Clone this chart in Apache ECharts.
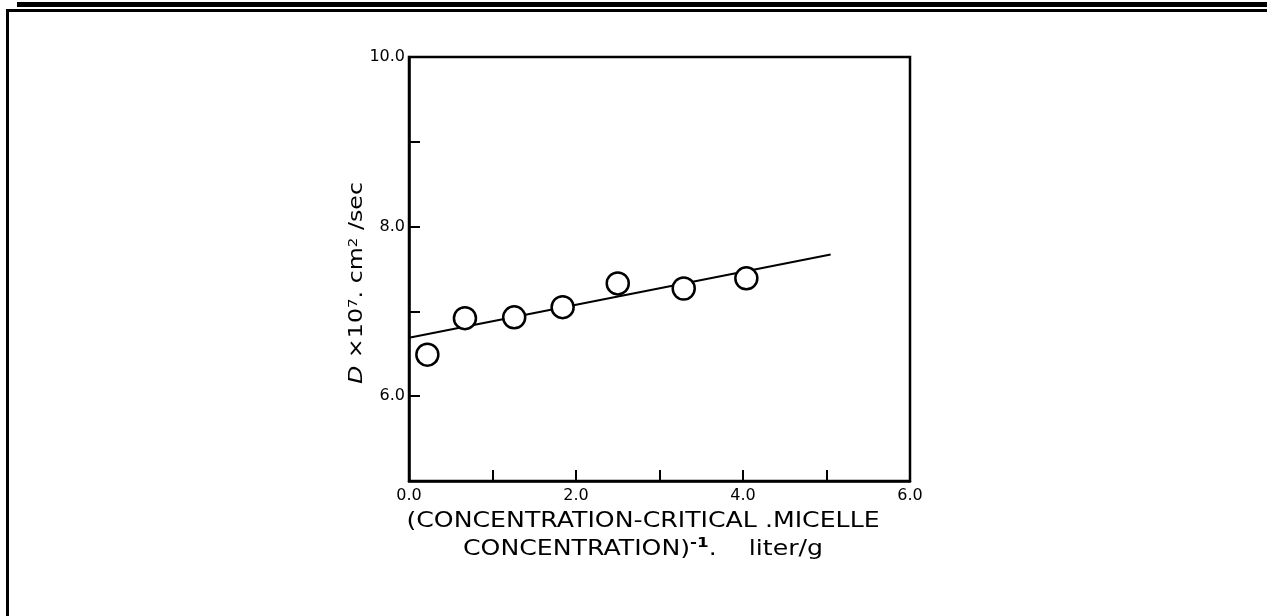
<!DOCTYPE html>
<html>
<head>
<meta charset="utf-8">
<script src="https://cdn.jsdelivr.net/npm/echarts@6/dist/echarts.min.js"></script>
<style>
html, body { margin: 0; padding: 0; background: #fff; }
#chart { width: 1267px; height: 616px; }
</style>
</head>
<body>
<div id="chart"></div>
<script>
var xValues = [0.22, 0.67, 1.26, 1.84, 2.50, 3.29, 4.04];
var dValues = [6.49, 6.92, 6.93, 7.05, 7.33, 7.27, 7.39];
// straight line through the points, its two end points
var fitX = [0, 5.05];
var fitD = [6.69, 7.67];
// labelled ticks
var xTicks = ['0.0', '2.0', '4.0', '6.0'];
var yTicks = ['6.0', '8.0', '10.0'];

var pairs = function (xs, ys) {
	var res = [];
	for (var i = 0; i < xs.length; i++) {
		res.push([xs[i], ys[i]]);
	}
	return res;
};

var tickFormatter = function (list) {
	return function (value) {
		var s = value.toFixed(1);
		return list.indexOf(s) >= 0 ? s : '';
	};
};

var axisCommon = {
	axisLine: { show: true, onZero: false, lineStyle: { color: '#000', width: 2.5 } },
	axisTick: { show: true, inside: true, length: 11, lineStyle: { color: '#000', width: 2 } },
	splitLine: { show: false }
};

var option = {
	animation: false,
	backgroundColor: '#fff',
	grid: {
		left: 409, right: 357, top: 57, bottom: 135,
		show: true, borderColor: '#000', borderWidth: 2.5
	},
	xAxis: Object.assign({
		type: 'value', min: 0, max: 6, interval: 1,
		axisLabel: {
			color: '#000', fontFamily: 'DejaVu Sans', fontSize: 16, margin: 7,
			formatter: tickFormatter(xTicks)
		}
	}, axisCommon),
	yAxis: Object.assign({
		type: 'value', min: 5, max: 10, interval: 1,
		axisLabel: {
			color: '#000', fontFamily: 'DejaVu Sans', fontSize: 16, margin: 4,
			formatter: tickFormatter(yTicks)
		}
	}, axisCommon),
	series: [
		{
			type: 'line',
			data: pairs(fitX, fitD),
			symbol: 'none',
			lineStyle: { color: '#000', width: 2 },
			z: 2
		},
		{
			type: 'scatter',
			data: pairs(xValues, dValues),
			symbol: 'circle',
			symbolSize: 22,
			itemStyle: { color: '#fff', borderColor: '#000', borderWidth: 2.5, opacity: 1 },
			z: 3
		}
	],
	graphic: [
		// page frame
		{ type: 'rect', shape: { x: 17, y: 2, width: 1250, height: 5 }, style: { fill: '#000' } },
		{ type: 'rect', shape: { x: 6, y: 9, width: 1261, height: 3 }, style: { fill: '#000' } },
		{ type: 'rect', shape: { x: 6, y: 9, width: 3, height: 607 }, style: { fill: '#000' } },
		// x axis title
		{
			type: 'text', x: 643, y: 536, scaleX: 1.2,
			style: {
				text: '{a|(CONCENTRATION-CRITICAL .MICELLE}\n{a|CONCENTRATION)}{s|-1}{a|.    liter/g}',
				align: 'center', verticalAlign: 'middle',
				rich: {
					a: { fontFamily: 'DejaVu Sans', fontSize: 21, lineHeight: 28, fill: '#000' },
					s: { fontFamily: 'DejaVu Sans', fontSize: 14, fontWeight: 'bold', lineHeight: 28, verticalAlign: 'top', fill: '#000' }
				}
			}
		},
		// y axis title
		{
			type: 'text', x: 357, y: 283, rotation: Math.PI / 2, scaleX: 1.25,
			style: {
				text: '{i|D}{a| \u00d710}{s|7}{a|. cm}{s|2}{a| /sec}',
				align: 'center', verticalAlign: 'middle',
				rich: {
					i: { fontFamily: 'DejaVu Sans', fontSize: 19, fontStyle: 'italic', fill: '#000' },
					a: { fontFamily: 'DejaVu Sans', fontSize: 19, fill: '#000' },
					s: { fontFamily: 'DejaVu Sans', fontSize: 12, verticalAlign: 'top', fill: '#000' }
				}
			}
		}
	]
};

var chart = echarts.init(document.getElementById('chart'));
chart.setOption(option);
</script>
</body>
</html>
